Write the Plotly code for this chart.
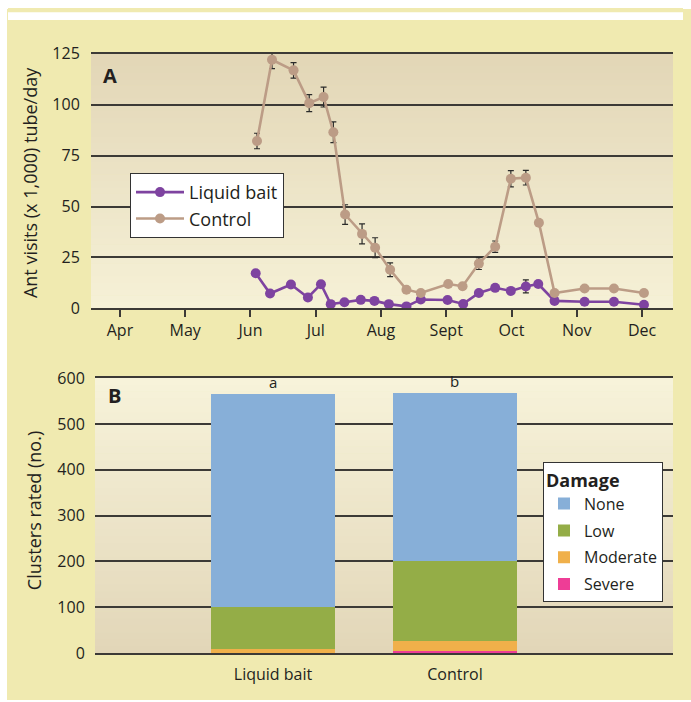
import plotly.graph_objects as go

# page is 691x702; the browser's default 8px body margin surrounds the figure
W, H = 675, 686
OFF = 8  # body margin

# ---------------- data (panel A) ----------------
month_vals = [4, 5, 6, 7, 8, 9, 10, 11, 12]
month_labels = ["Apr", "May", "Jun", "Jul", "Aug", "Sept", "Oct", "Nov", "Dec"]

liquid_x = [6.08, 6.30, 6.62, 6.88, 7.08, 7.23, 7.44, 7.69, 7.90, 8.12, 8.39, 8.61,
            9.02, 9.26, 9.50, 9.75, 9.99, 10.22, 10.41, 10.66, 11.12, 11.57, 12.03]
liquid_y = [17.3, 7.3, 11.7, 5.4, 11.9, 2.1, 3.0, 4.2, 3.7, 2.1, 1.0, 4.4,
            4.1, 2.2, 7.6, 10.1, 8.6, 10.8, 12.0, 3.7, 3.3, 3.3, 1.8]
liquid_err = [0, 0, 0, 0, 0, 0, 0, 0, 0, 0, 0, 0,
              0, 0, 0, 0, 0, 3.2, 0, 0, 0, 0, 0]

control_x = [6.10, 6.33, 6.66, 6.90, 7.12, 7.27, 7.45, 7.71, 7.91, 8.14, 8.39, 8.61,
             9.03, 9.25, 9.50, 9.75, 9.99, 10.22, 10.42, 10.66, 11.12, 11.57, 12.03]
control_y = [82.2, 122.1, 116.9, 100.8, 103.8, 86.5, 46.1, 36.6, 29.8, 19.0, 9.2, 7.6,
             12.0, 10.9, 22.0, 30.3, 63.7, 64.2, 42.1, 7.6, 9.8, 9.8, 7.6]
control_err = [3.8, 4.4, 3.8, 4.2, 4.9, 5.1, 4.8, 4.9, 4.9, 3.4, 0, 0,
               0, 0, 2.9, 2.8, 4.0, 3.6, 0, 0, 0, 0, 0]

# ---------------- data (panel B) ----------------
categories = ["Liquid bait", "Control"]
severe = [0, 4]
moderate = [8.5, 21]
low = [91.5, 176]
none_ = [466, 367]
sig_letters = ["a", "b"]

# ---------------- style ----------------
FONT = "Open Sans"
TXT = "#231F20"
GRID = "#3c3a36"
PURPLE = "#7E43A0"
TAN = "#BC9C86"
YELLOW = "#F0EAB0"
C_NONE, C_LOW, C_MOD, C_SEV = "#87AFD8", "#94AD47", "#F0B04A", "#EE3D96"


def px(x):  # page x pixel -> paper fraction
    return (x - OFF) / W


def py(y):  # page y pixel -> paper fraction (from bottom)
    return 1 - (y - OFF) / H


fig = go.Figure()

fig.add_trace(go.Scatter(
    x=liquid_x, y=liquid_y, mode="lines+markers", name="Liquid bait",
    line=dict(color=PURPLE, width=2.6), marker=dict(size=10, color=PURPLE),
    error_y=dict(type="data", array=liquid_err, visible=True, color="#2a2a2a", thickness=1.2, width=3),
    xaxis="x", yaxis="y", legend="legend"))
fig.add_trace(go.Scatter(
    x=control_x, y=control_y, mode="lines+markers", name="Control",
    line=dict(color=TAN, width=2.6), marker=dict(size=10, color=TAN),
    error_y=dict(type="data", array=control_err, visible=True, color="#2a2a2a", thickness=1.2, width=3),
    xaxis="x", yaxis="y", legend="legend"))

for name, vals, col, rank in [("Severe", severe, C_SEV, 4), ("Moderate", moderate, C_MOD, 3),
                              ("Low", low, C_LOW, 2), ("None", none_, C_NONE, 1)]:
    fig.add_trace(go.Bar(x=categories, y=vals, name=name, marker=dict(color=col, line=dict(width=0)),
                         width=0.68, xaxis="x2", yaxis="y2", legend="legend2",
                         legendgroup=name, legendrank=rank))

totals = [s + m + l + n for s, m, l, n in zip(severe, moderate, low, none_)]


def hex2rgb(h):
    h = h.lstrip("#")
    return [int(h[i:i + 2], 16) for i in (0, 2, 4)]


def grad_shapes(xref, yref, c_bottom, c_top, n=40):
    a, b = hex2rgb(c_bottom), hex2rgb(c_top)
    out = []
    for i in range(n):
        t = (i + 0.5) / n
        c = [round(a[k] + (b[k] - a[k]) * t) for k in range(3)]
        out.append(dict(type="rect", xref=xref, yref=yref, x0=0, x1=1, y0=i / n, y1=(i + 1) / n + 0.002,
                        fillcolor="rgb(%d,%d,%d)" % tuple(c), line=dict(width=0), layer="below"))
    return out


# white strip along the very top of the figure (the rest of the paper is yellow)
shapes = [dict(type="rect", xref="paper", yref="paper", x0=0, x1=1, y0=py(9), y1=1.01,
               fillcolor="white", line=dict(width=0), layer="below")]
shapes += grad_shapes("x domain", "y domain", "#F6F1D7", "#E2D6B6")
shapes += grad_shapes("x2 domain", "y2 domain", "#E2D6B8", "#F7F3DA")

annotations = [
    dict(text="A", xref="x domain", yref="y domain", x=0.018, y=0.914, xanchor="left", yanchor="middle",
         showarrow=False, font=dict(family=FONT, size=20, color=TXT, weight="bold")),
    dict(text="B", xref="x2 domain", yref="y2 domain", x=0.019, y=0.935, xanchor="left", yanchor="middle",
         showarrow=False, font=dict(family=FONT, size=20, color=TXT, weight="bold")),
    dict(text="Ant visits (x 1,000) tube/day", xref="paper", yref="paper", x=px(30), y=py(177.5),
         textangle=-90, xanchor="center", yanchor="middle", showarrow=False,
         font=dict(family=FONT, size=18, color=TXT)),
    dict(text="Clusters rated (no.)", xref="paper", yref="paper", x=px(34), y=py(516.5),
         textangle=-90, xanchor="center", yanchor="middle", showarrow=False,
         font=dict(family=FONT, size=18, color=TXT)),
]
for c, t, lab in zip(categories, totals, sig_letters):
    annotations.append(dict(text=lab, x=c, y=t, xref="x2", yref="y2", xanchor="center", yanchor="bottom",
                            showarrow=False, font=dict(family=FONT, size=15, color=TXT)))

fig.update_layout(
    width=W, height=H, autosize=False,
    margin=dict(l=0, r=0, t=0, b=0, pad=0),
    paper_bgcolor=YELLOW, plot_bgcolor=YELLOW,
    font=dict(family=FONT, color=TXT, size=16),
    barmode="stack", bargap=0,
    shapes=shapes, annotations=annotations,
    xaxis=dict(domain=[px(91), px(673)], anchor="y", range=[3.556, 12.475],
               tickvals=month_vals, ticktext=month_labels, ticks="outside", ticklen=7, tickwidth=1.5,
               tickcolor=GRID, showline=True, linecolor=GRID, linewidth=1.5, mirror=True,
               showgrid=False, zeroline=False, tickfont=dict(size=16, color=TXT), fixedrange=True),
    yaxis=dict(domain=[py(307), py(44)], anchor="x", range=[0, 125],
               tickvals=[0, 25, 50, 75, 100, 125], showgrid=True, gridcolor=GRID, gridwidth=1.5,
               zeroline=False, ticks="outside", ticklen=7, tickcolor="rgba(0,0,0,0)",
               tickfont=dict(size=16, color=TXT), showline=False, fixedrange=True),
    xaxis2=dict(domain=[px(95), px(673)], anchor="y2", type="category", categoryorder="array",
                categoryarray=categories, range=[-0.978, 2.198], ticks="outside", ticklen=6,
                tickcolor="rgba(0,0,0,0)", showline=True, linecolor=GRID, linewidth=1.5, mirror=True,
                layer="below traces", showgrid=False, zeroline=False,
                tickfont=dict(size=16, color=TXT), fixedrange=True),
    yaxis2=dict(domain=[py(663), py(379)], anchor="x2", range=[0, 600], dtick=100,
                showgrid=True, gridcolor=GRID, gridwidth=1.5, zeroline=False, ticks="outside", ticklen=6,
                tickcolor="rgba(0,0,0,0)", tickfont=dict(size=16, color=TXT), showline=False,
                layer="below traces", fixedrange=True),
    legend=dict(x=px(130), y=py(167), xanchor="left", yanchor="top", bgcolor="white",
                bordercolor="#333333", borderwidth=1, font=dict(family=FONT, size=18, color=TXT),
                traceorder="normal", itemwidth=48),
    legend2=dict(x=px(543), y=py(466), xanchor="left", yanchor="top", bgcolor="white",
                 bordercolor="#333333", borderwidth=1, font=dict(family=FONT, size=16, color=TXT),
                 traceorder="grouped", tracegroupgap=3, itemwidth=30,
                 title=dict(text="<b>Damage</b>", font=dict(family=FONT, size=18, color=TXT))),
    showlegend=True,
)

fig.write_html(
    "out.html", config={"displayModeBar": False},
    post_script=("document.documentElement.style.background="
                 "'linear-gradient(to right, #ffffff 7px, rgba(255,255,255,0) 7px), "
                 "linear-gradient(to bottom, #ffffff 9px, #F0EAB0 9px, #F0EAB0 700px, #ffffff 700px)';"))
